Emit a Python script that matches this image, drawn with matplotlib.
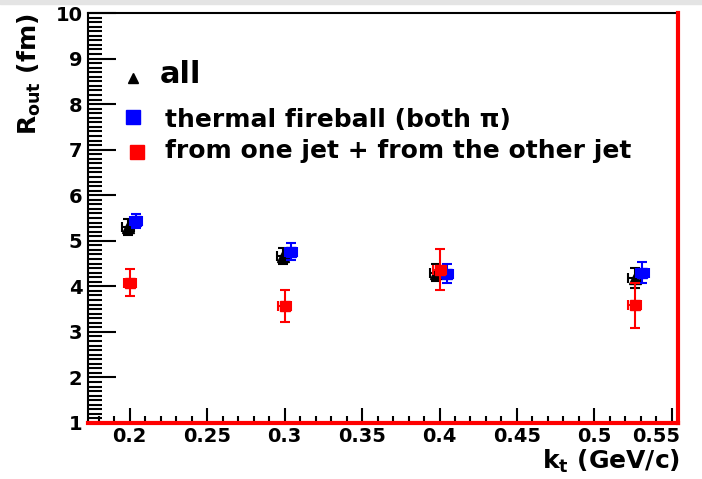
import numpy as np
import matplotlib.pyplot as plt
from matplotlib.ticker import MultipleLocator, FormatStrFormatter
from matplotlib.transforms import ScaledTranslation

plt.rcParams['font.family'] = ['DejaVu Sans']
plt.rcParams['font.weight'] = 'bold'
plt.rcParams['mathtext.default'] = 'bf'

# R_out vs k_t
kt_all = [0.199, 0.299, 0.398, 0.526]
r_all = [5.30, 4.66, 4.30, 4.18]
e_all = [0.17, 0.18, 0.19, 0.22]

kt_th = [0.204, 0.304, 0.405, 0.531]
r_th = [5.43, 4.76, 4.28, 4.30]
e_th = [0.16, 0.19, 0.20, 0.23]

kt_jet = [0.200, 0.300, 0.400, 0.526]
r_jet = [4.08, 3.56, 4.36, 3.58]
e_jet = [0.29, 0.35, 0.45, 0.50]

W, H = 702, 479
fig = plt.figure(figsize=(W / 100, H / 100), dpi=100)
ax = fig.add_axes([88 / W, 1 - 423 / H, 590 / W, 410 / H])

# thin grey strip along the top of the canvas
fig.patches.append(plt.Rectangle((0, 1 - 4 / H), 1, 4 / H, transform=fig.transFigure,
                                 color='#e4e4e4', zorder=0))

kw = dict(xerr=0.004, capsize=3.5, elinewidth=1.5, capthick=1.5)
ax.errorbar(kt_all, r_all, yerr=e_all, fmt='^', color='black', ms=8, zorder=3, **kw)
ax.errorbar(kt_th, r_th, yerr=e_th, fmt='s', color='#0000ff', ms=7.5, zorder=4, **kw)
ax.errorbar(kt_jet, r_jet, yerr=e_jet, fmt='s', color='#ff0000', ms=7.5, zorder=5, **kw)

ax.set_xlim(0.173, 0.554)
ax.set_ylim(1, 10)

# red histogram outline on bottom and right edges
ax.axhline(1, color='red', lw=3, zorder=6, clip_on=False)
ax.axvline(0.554, color='red', lw=3, zorder=6, clip_on=False)

for s in ax.spines.values():
    s.set_linewidth(1.5)

ax.xaxis.set_major_locator(MultipleLocator(0.05))
ax.xaxis.set_minor_locator(MultipleLocator(0.01))
ax.yaxis.set_major_locator(MultipleLocator(1))
ax.yaxis.set_minor_locator(MultipleLocator(0.1))
ax.xaxis.set_major_formatter(FormatStrFormatter('%g'))
ax.yaxis.set_major_formatter(FormatStrFormatter('%g'))

ax.tick_params(axis='both', which='both', direction='in', labelsize=14, width=1.5)
ax.tick_params(axis='y', which='major', length=20, pad=4)
ax.tick_params(axis='y', which='minor', length=10)
ax.tick_params(axis='x', which='major', length=11, pad=3)
ax.tick_params(axis='x', which='minor', length=5)
ax.tick_params(top=False, right=False)

# last x label pulled inside the frame
fig.canvas.draw()
shift = ScaledTranslation(-16 / 100, 0, fig.dpi_scale_trans)
for t in ax.xaxis.get_major_ticks():
    if abs(t.get_loc() - 0.55) < 1e-6:
        t.label1.set_transform(t.label1.get_transform() + shift)

# axis titles
fig.text(680 / W, 1 - 469 / H, r'k$_\mathbf{t}$ (GeV/c)', fontsize=18, fontweight='bold',
         ha='right', va='baseline')
fig.text(29 / W, 1 - 14 / H, r'R$_\mathbf{out}$ (fm)', fontsize=18, fontweight='bold',
         ha='center', va='top', rotation=90)

# legend drawn by hand
fig.lines.append(plt.Line2D([133 / W], [1 - 78 / H], marker='^', color='black', ms=7,
                            transform=fig.transFigure))
fig.text(160 / W, 1 - 83 / H, 'all', fontsize=22, fontweight='bold', va='baseline')
fig.lines.append(plt.Line2D([133 / W], [1 - 117 / H], marker='s', color='#0000ff', ms=10,
                            transform=fig.transFigure))
fig.text(165 / W, 1 - 127 / H, 'thermal fireball (both \u03c0)', fontsize=18,
         fontweight='bold', va='baseline')
fig.lines.append(plt.Line2D([137 / W], [1 - 152 / H], marker='s', color='#ff0000', ms=10,
                            transform=fig.transFigure))
fig.text(165 / W, 1 - 158 / H, 'from one jet + from the other jet', fontsize=18,
         fontweight='bold', va='baseline')

fig.savefig('out.png', dpi=100)
